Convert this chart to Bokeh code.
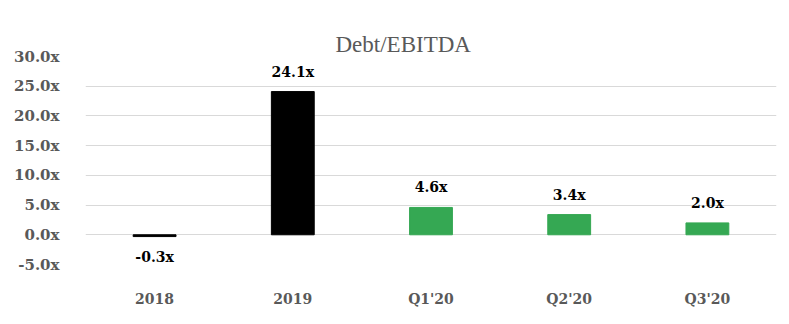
from bokeh.plotting import figure
from bokeh.models import ColumnDataSource, FixedTicker, Title
from bokeh.core.properties import value
from bokeh.embed import file_html
from bokeh.resources import INLINE

title_text = "Debt/EBITDA"
categories = ["2018", "2019", "Q1'20", "Q2'20", "Q3'20"]
values = [-0.3, 24.1, 4.6, 3.4, 2.0]
colors = ["#000000", "#000000", "#35A853", "#35A853", "#35A853"]
labels = ["-0.3x", "24.1x", "4.6x", "3.4x", "2.0x"]
y_ticks = [-5, 0, 5, 10, 15, 20, 25, 30]
y_tick_labels = ["-5.0x", "0.0x", "5.0x", "10.0x", "15.0x", "20.0x", "25.0x", "30.0x"]

src = ColumnDataSource(dict(
    cat=categories, val=values, color=colors, label=labels,
    off=[20 if v < 0 else -20 for v in values],
))

p = figure(x_range=categories, y_range=(-5, 30), width=789, height=324,
           output_backend="svg", toolbar_location=None,
           min_border_left=85, min_border_right=13, min_border_top=56, min_border_bottom=60)

spacer = Title(text=".", text_font_size="11px", text_alpha=0.0, standoff=0)
title = Title(text=title_text, align="left", offset=250,
              text_font="Liberation Serif", text_font_size="23px",
              text_font_style="normal", text_color="#595959", standoff=0)
p.add_layout(title, "above")
p.add_layout(spacer, "above")

p.outline_line_color = None
p.background_fill_color = "white"
p.border_fill_color = "white"

p.vbar(x="cat", top="val", bottom=0, width=0.31, color="color", source=src)

p.text(x="cat", y="val", text="label", y_offset="off", source=src,
       text_align="center", text_baseline="middle",
       text_font=value("DejaVu Serif"), text_font_style="bold",
       text_font_size="14px", text_color="#000000")

p.yaxis.ticker = FixedTicker(ticks=y_ticks)
p.yaxis.major_label_overrides = {t: l for t, l in zip(y_ticks, y_tick_labels)}
for ax in (p.xaxis, p.yaxis):
    ax.axis_line_color = None
    ax.major_tick_line_color = None
    ax.minor_tick_line_color = None
    ax.major_label_text_font = "DejaVu Serif"
    ax.major_label_text_font_style = "bold"
    ax.major_label_text_color = "#595959"
p.yaxis.major_label_text_font_size = "15px"
p.xaxis.major_label_text_font_size = "14px"
p.yaxis.major_label_standoff = 20
p.xaxis.major_label_standoff = 20

p.xgrid.grid_line_color = None
p.ygrid.grid_line_color = "#d9d9d9"
p.ygrid.grid_line_width = 1
p.ygrid.ticker = FixedTicker(ticks=y_ticks)
p.x_range.range_padding = 0

open("out.html", "w").write(file_html(p, INLINE))
